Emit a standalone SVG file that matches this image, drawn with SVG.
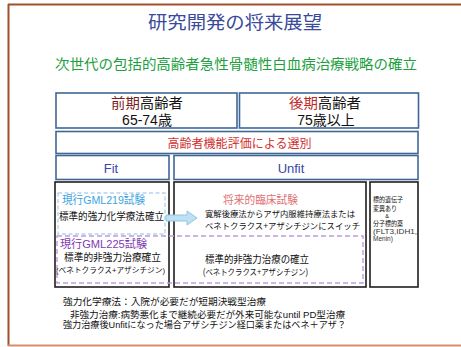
<svg xmlns="http://www.w3.org/2000/svg" width="461" height="347" viewBox="0 0 461 347">
<style>
text{font-family:"Liberation Sans","Noto Sans CJK JP",sans-serif;}
.c{text-anchor:middle;}
.bx{fill:#fff;stroke:#3f6796;stroke-width:1.6;}
.kb{fill:#fff;stroke:#1e1e1e;stroke-width:1.6;}
.blk{fill:#111;}
</style>
<rect x="0" y="0" width="461" height="347" fill="#fff"/>
<g id="frame">
<line x1="8" y1="4.5" x2="461" y2="4.5" stroke="#a0502c" stroke-width="2"/>
<line x1="8.5" y1="4" x2="8.5" y2="346" stroke="#a0502c" stroke-width="2"/>
<line x1="8" y1="345.5" x2="461" y2="345.5" stroke="#d4906c" stroke-width="2"/>
</g>
<g id="title">
<text x="235" y="29" class="c" font-size="18" fill="#3a4a9a" textLength="174" lengthAdjust="spacingAndGlyphs">研究開発の将来展望</text>
<text x="236" y="69" class="c" font-size="14" fill="#20a040" textLength="362" lengthAdjust="spacingAndGlyphs">次世代の包括的高齢者急性骨髄性白血病治療戦略の確立</text>
</g>
<g id="early">
<rect class="bx" x="56" y="93" width="181" height="35"/>
<text x="147" y="108" class="c" font-size="14" textLength="72" lengthAdjust="spacingAndGlyphs"><tspan fill="#7a1e1e">前期</tspan><tspan class="blk">高齢者</tspan></text>
<text x="147" y="125" class="c blk" font-size="14">65-74歳</text>
</g>
<g id="late">
<rect class="bx" x="239.5" y="93" width="179" height="35"/>
<text x="325" y="108" class="c" font-size="14" textLength="72" lengthAdjust="spacingAndGlyphs"><tspan fill="#c02828">後期</tspan><tspan class="blk">高齢者</tspan></text>
<text x="326" y="125" class="c blk" font-size="14">75歳以上</text>
</g>
<g id="selection">
<rect class="bx" x="56" y="131.5" width="362" height="22"/>
<text x="239.5" y="148" class="c" font-size="12" fill="#d03030" textLength="144" lengthAdjust="spacingAndGlyphs">高齢者機能評価による選別</text>
</g>
<g id="fit">
<rect class="bx" x="56" y="155.5" width="113" height="24"/>
<text x="111" y="173" class="c" font-size="13" fill="#3a48a8">Fit</text>
</g>
<g id="unfit">
<rect class="bx" x="174" y="155.5" width="244" height="24"/>
<text x="291" y="173" class="c" font-size="13" fill="#3a48a8">Unfit</text>
</g>
<g id="fit-col">
<rect class="kb" x="55" y="182" width="114" height="105"/>
</g>
<g id="unfit-col">
<rect class="kb" x="174" y="182" width="192" height="105"/>
<text x="260.5" y="204" class="c" font-size="11" fill="#e07070" textLength="75" lengthAdjust="spacingAndGlyphs">将来的臨床試験</text>
<text x="205" y="217" font-size="8.5" class="blk" textLength="150" lengthAdjust="spacingAndGlyphs">寛解後療法からアザ内服維持療法または</text>
<text x="205" y="228.5" font-size="8.5" class="blk" textLength="155" lengthAdjust="spacingAndGlyphs">ベネトクラクス+アザシチジンにスイッチ</text>
</g>
<g id="targeted">
<rect class="kb" x="370" y="182" width="48" height="105"/>
<text x="373" y="202" font-size="6.5" class="blk" textLength="30" lengthAdjust="spacingAndGlyphs">標的遺伝子</text>
<text x="373" y="210.5" font-size="6.5" class="blk" textLength="24" lengthAdjust="spacingAndGlyphs">変異あり</text>
<text x="387" y="217.5" class="c blk" font-size="5.5">&amp;</text>
<text x="373" y="226" font-size="6.5" class="blk" textLength="30" lengthAdjust="spacingAndGlyphs">分子標的薬</text>
<text x="373" y="233.5" font-size="6.5" fill="#333" textLength="44" lengthAdjust="spacingAndGlyphs">(FLT3,IDH1,</text>
<text x="373" y="241" font-size="6.5" fill="#333">Menin)</text>
</g>
<g id="gml219">
<rect x="58" y="193" width="107" height="41" fill="none" stroke="#b4d4ee" stroke-width="1.4" stroke-dasharray="4,2.5"/>
<text x="62" y="204" font-size="11" fill="#3aa4e0" textLength="83" lengthAdjust="spacingAndGlyphs">現行GML219試験</text>
<text x="59" y="220" font-size="10" class="blk" textLength="105" lengthAdjust="spacingAndGlyphs">標準的強力化学療法確立</text>
</g>
<g id="gml225">
<rect x="57" y="236" width="306" height="47" fill="none" stroke="#c09ae0" stroke-width="1.4" stroke-dasharray="5,3"/>
<text x="60" y="248" font-size="11.5" fill="#7e3ab0" textLength="87" lengthAdjust="spacingAndGlyphs">現行GML225試験</text>
<text x="64" y="261" font-size="10" class="blk" textLength="97" lengthAdjust="spacingAndGlyphs">標準的非強力治療確立</text>
<text x="56" y="273" font-size="7.5" class="blk" textLength="109" lengthAdjust="spacingAndGlyphs">(ベネトクラクス+アザシチジン)</text>
<text x="205" y="263" font-size="10" class="blk" textLength="104" lengthAdjust="spacingAndGlyphs">標準的非強力治療の確立</text>
<text x="203" y="274.5" font-size="8.5" class="blk" textLength="105" lengthAdjust="spacingAndGlyphs">(ベネトクラクス+アザシチジン)</text>
</g>
<g id="connectors">
<polygon points="166,215 187,215 187,211 197,218 187,225 187,221 166,221" fill="#bfe0f2" stroke="#8fc6e2" stroke-width="1"/>
</g>
<g id="notes">
<text x="63" y="305" font-size="9.5" class="blk" textLength="203" lengthAdjust="spacingAndGlyphs">強力化学療法：入院が必要だが短期決戦型治療</text>
<text x="70" y="317.5" font-size="9.5" class="blk" textLength="275" lengthAdjust="spacingAndGlyphs">非強力治療:病勢悪化まで継続必要だが外来可能なuntil PD型治療</text>
<text x="63" y="328" font-size="9.5" class="blk" textLength="283" lengthAdjust="spacingAndGlyphs">強力治療後Unfitになった場合アザシチジン経口薬またはベネ＋アザ？</text>
</g>
</svg>
